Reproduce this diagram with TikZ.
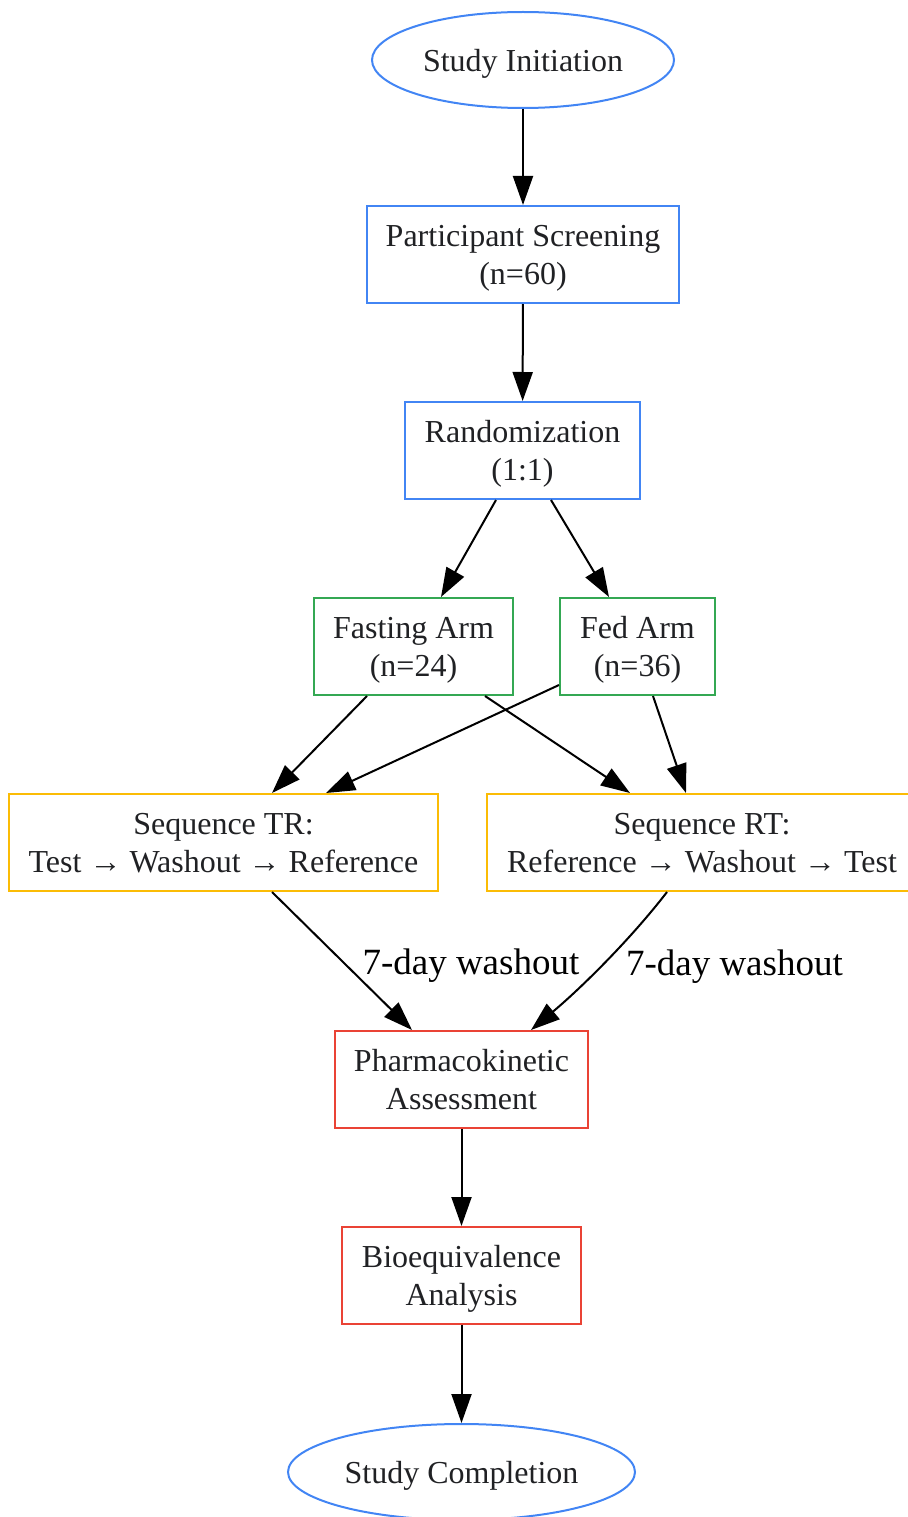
\documentclass[tikz,border=0pt]{standalone}
\usepackage{fontspec}
\setmainfont{Liberation Serif}
\usetikzlibrary{arrows.meta,shapes.geometric}
\definecolor{gblue}{HTML}{4285F4}
\definecolor{ggreen}{HTML}{34A853}
\definecolor{gyellow}{HTML}{FBBC05}
\definecolor{gred}{HTML}{EA4335}
\definecolor{txt}{HTML}{202124}
\tikzset{
  base/.style={draw, line width=2pt, text=txt, align=center, inner sep=0pt,
    font=\fontsize{32}{38}\selectfont, minimum height=97pt, text depth=0pt},
  oval/.style={base, ellipse, draw=gblue, minimum height=96pt},
  boxbase/.style={base, rectangle, text depth=-4pt},
  bluebox/.style={boxbase, draw=gblue},
  greenbox/.style={boxbase, draw=ggreen},
  yellowbox/.style={boxbase, draw=gyellow},
  redbox/.style={boxbase, draw=gred},
  conn/.style={line width=2pt, -{Triangle[length=29pt,width=20pt]}},
  elabel/.style={font=\fontsize{37}{44}\selectfont, text=black, inner sep=0pt, anchor=west}
}
\begin{document}
\begin{tikzpicture}[x=1pt,y=-1pt]
\useasboundingbox (0,0) rectangle (907,1517);
\node[oval, minimum width=302pt] (init) at (523,60) {Study Initiation};
\node[bluebox, minimum width=312pt] (screen) at (523,254.5) {Participant Screening\\(n=60)};
\node[bluebox, minimum width=235pt] (rand) at (522.5,450.5) {Randomization\\(1:1)};
\node[greenbox, minimum width=199pt] (fast) at (413.5,646.5) {Fasting Arm\\(n=24)};
\node[greenbox, minimum width=155pt] (fed) at (637.5,646.5) {Fed Arm\\(n=36)};
\node[yellowbox, minimum width=429pt] (tr) at (223.5,842.5) {Sequence TR:\\Test → Washout → Reference};
\node[yellowbox, minimum width=430pt] (rt) at (702,842.5) {Sequence RT:\\Reference → Washout → Test};
\node[redbox, minimum width=253pt] (pk) at (461.5,1079.5) {Pharmacokinetic\\Assessment};
\node[redbox, minimum width=239pt] (be) at (461.5,1275.5) {Bioequivalence\\Analysis};
\node[oval, minimum width=347pt] (done) at (461.5,1472) {Study Completion};

\draw[conn] (init) -- (screen);
\draw[conn] (screen) -- (rand);
\draw[conn] ([xshift=-26.5pt]rand.south) -- ([xshift=27.5pt]fast.north);
\draw[conn] ([xshift=28.5pt]rand.south) -- ([xshift=-28.5pt]fed.north);
\draw[conn] ([xshift=-46.5pt]fast.south) -- ([xshift=48.5pt]tr.north);
\draw[conn] ([xshift=71.5pt]fast.south) -- ([xshift=-72pt]rt.north);
\draw[conn] ([yshift=-38.5pt]fed.west) -- ([xshift=102.5pt]tr.north);
\draw[conn] ([xshift=15.5pt]fed.south) -- ([xshift=-16pt]rt.north);
\draw[conn] ([xshift=48.5pt]tr.south) -- node[elabel, pos=0.5, xshift=19.5pt, yshift=-5pt] {7-day washout} ([xshift=-49.5pt]pk.north);
\draw[conn] ([xshift=-35pt]rt.south) .. controls +(-37,48) and +(49,-41) .. node[elabel, pos=0.5, xshift=21.5pt, yshift=-3pt] {7-day washout} ([xshift=69.5pt]pk.north);
\draw[conn] (pk) -- (be);
\draw[conn] (be) -- (done);
\end{tikzpicture}
\end{document}
